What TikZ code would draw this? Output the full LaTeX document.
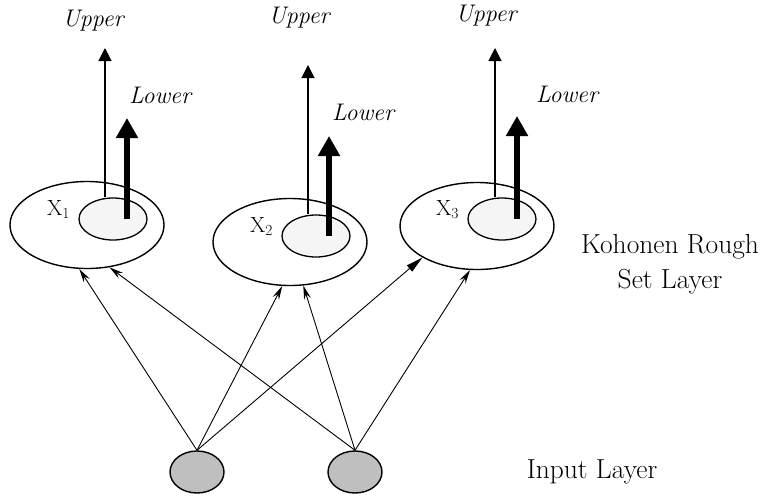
\documentclass[tikz,border=0pt]{standalone}
\usetikzlibrary{shapes.geometric}
\usetikzlibrary{arrows.meta}

\begin{document}
\begin{tikzpicture}[x=1pt,y=-1pt,
kring/.style={draw,ellipse,line width=1.4pt,fill=white,minimum width=154pt,minimum height=87pt},
kcore/.style={draw,ellipse,line width=1.3pt,fill=gray!8,minimum width=68pt,minimum height=42pt},
inode/.style={draw,ellipse,line width=1.4pt,fill=gray!50,minimum width=54pt,minimum height=42pt},
uarrow/.style={line width=1.1pt,-{Triangle[length=13pt,width=13pt]}},
larrow/.style={line width=6.5pt,-{Triangle[length=20pt,width=21pt]}},
wire/.style={line width=0.9pt,-{Stealth[length=14pt,width=7pt,inset=5pt]}},
bwire/.style={line width=0.9pt,-{Triangle[length=17pt,width=8pt]}},
lbl/.style={font=\fontsize{24}{26}\selectfont\itshape,anchor=base,inner sep=0pt},
xlbl/.style={font=\fontsize{22}{24}\selectfont,anchor=base west,inner sep=0pt},
layer/.style={font=\fontsize{27.5}{35}\selectfont,align=center,anchor=base,inner sep=0pt}]
\useasboundingbox (0,0) rectangle (764,501);
\draw
(87,225) node[kring](k1){}
(290,242) node[kring](k2){}
(477,226) node[kring](k3){}
(113,219) node[kcore](c1){}
(316,236) node[kcore](c2){}
(502,219) node[kcore](c3){}
(197,472) node[inode](in1){}
(355,472) node[inode](in2){}
;
%%% Ends of the outputs
\foreach \i/\ux/\uy/\lx/\ly in {1/105/48/127/118, 2/308/65/329/136, 3/495/48/517/116}{
\coordinate (u\i) at (\ux,\uy);
\coordinate (l\i) at (\lx,\ly);
\draw[uarrow](c\i.north -| u\i) -- (u\i);
\draw[larrow](c\i.center -| l\i) -- (l\i);
}
%%% Output labels
\foreach \x/\y/\l in {93/26/{Upper}, 299/23/{Upper}, 486/21/{Upper},
160/103/{Lower}, 363/120/{Lower}, 567/102/{Lower}}{
\node[lbl] at (\x,\y) {\l};
}
\node[xlbl] (x1) at (47,215) {X\textsubscript{1}};
\node[xlbl] (x2) at (250,232) {X\textsubscript{2}};
\node[xlbl] (x3) at (436,215) {X\textsubscript{3}};
%%% Input connections
\foreach \x/\y in {in1/k1.260, in1/k2.260, in2/k1.298, in2/k2.287, in2/k3.261}{
\draw[wire](\x.north) -- (\y);
}
\draw[bwire](in1.north) -- (k3.210);
%%% Layer names
\node[layer] (kr) at (670,288) {Kohonen Rough\\Set Layer};
\node[layer] (il) at (592,478) {Input Layer};
\end{tikzpicture}
\end{document}
